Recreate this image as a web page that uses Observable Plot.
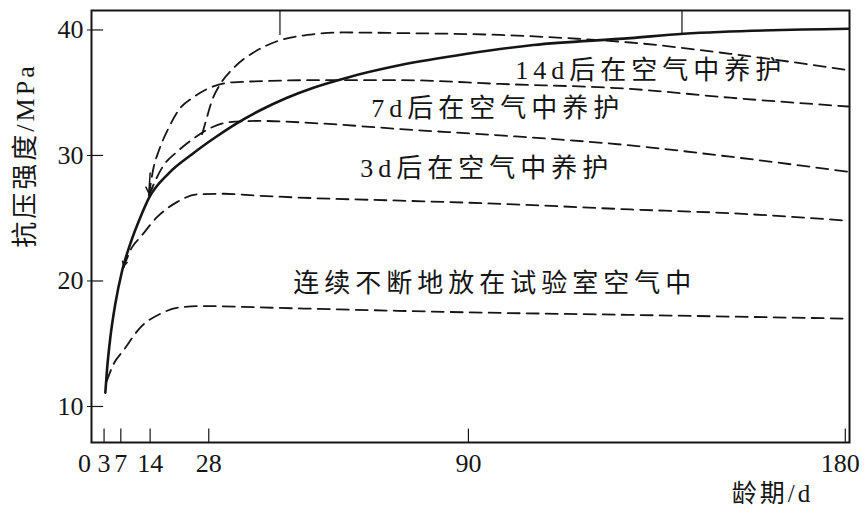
<!DOCTYPE html>
<html><head><meta charset="utf-8">
<script src="https://cdn.jsdelivr.net/npm/d3@7"></script>
<script src="https://cdn.jsdelivr.net/npm/@observablehq/plot@0.6"></script>
<style>
body{margin:0;background:#fff;}
g[aria-description="notes"] text{letter-spacing:5px;}
g[aria-description="titles"] text{letter-spacing:3px;}
</style></head><body><div id="chart"></div>
<script>
// tick values
const xTicks = [0, 3, 7, 14, 28, 90, 180];
const yTicks = [10, 20, 30, 40];
const topMarks = [45, 141];

// [age (d), compressive strength (MPa)]
const standard = [[3.3,11.1],[3.7,12.9],[4.5,15.5],[5.7,18.2],[7.3,20.8],[9.3,23.0],[11.7,25.1],[13.7,26.6],[18.5,28.6],[24,30.1],[29.6,31.45],[34.4,32.5],[40.3,33.6],[46.7,34.6],[53,35.4],[61,36.2],[73.8,37.2],[89.7,38.1],[105.5,38.8],[128.7,39.35],[141.3,39.7],[180.7,40.1]];
const labAir = [[3.6,12.0],[5.3,13.4],[7.7,14.5],[11.7,16.3],[16.5,17.4],[21.2,17.9],[26,18.0],[45,17.85],[90,17.5],[128,17.3],[180.7,17.0]];
const unlabeled = [[7.7,21.1],[9.7,22.7],[11.7,23.5],[15.7,25.1],[20.5,26.3],[25.2,26.9],[31.6,26.95],[39.6,26.8],[53,26.6],[73.8,26.4],[97.6,26.15],[128.7,25.7],[152.5,25.4],[180.7,24.8]];
const after3d = [[13.7,26.8],[16.9,29.05],[20.8,30.4],[24.8,31.45],[28.8,32.25],[32.8,32.65],[40,32.75],[54.7,32.55],[73.8,32.1],[97.6,31.6],[128.7,30.8],[152.5,29.9],[180.7,28.7]];
const after7d = [[13.7,26.8],[14.8,29.0],[16.1,30.4],[18.5,32.25],[20.8,33.6],[24.4,34.65],[30,35.6],[34.8,35.85],[54.7,36.0],[73.8,36.0],[97.6,35.7],[128.7,35.3],[152.5,34.6],[180.7,33.9]];
const after14d = [[26.4,31.7],[27.2,32.6],[28.8,34.4],[30.8,35.7],[34,37.0],[38.7,38.2],[44.3,39.1],[51.5,39.6],[60,39.8],[73.8,39.75],[97.6,39.6],[116,39.3],[128.7,39.0],[152.5,38.1],[180.7,36.8]];

const notes = [
  {text: "14d后在空气中养护", day: 101.2, mpa: 36.77},
  {text: "7d后在空气中养护", day: 66.8, mpa: 33.75},
  {text: "3d后在空气中养护", day: 64.2, mpa: 28.96},
  {text: "连续不断地放在试验室空气中", day: 48.2, mpa: 19.8}
];
const arrows = [
  {x1: 14.0, y1: 28.6, x2: 13.7, y2: 27.0},
  {x1: 8.6, y1: 22.3, x2: 7.7, y2: 21.2}
];

const X = [0, 181], Y = [7.13, 41.55];
const ink = "#151515";
const dashed = [labAir, unlabeled, after3d, after7d, after14d];

const plot = Plot.plot({
  width: 865, height: 509,
  marginLeft: 91, marginRight: 16, marginTop: 10, marginBottom: 67,
  x: {domain: X, axis: null},
  y: {domain: Y, axis: null},
  style: {fontFamily: '"Liberation Serif","Noto Sans CJK SC",serif', fontSize: "26px", color: ink, background: "#fff"},
  marks: [
    ...dashed.map(s => Plot.line(s, {x: d => d[0], y: d => d[1], curve: "monotone-x", stroke: ink, strokeWidth: 1.8, strokeDasharray: "12,7"})),
    Plot.line(standard, {x: d => d[0], y: d => d[1], curve: "monotone-x", stroke: ink, strokeWidth: 2.6}),
    Plot.arrow(arrows, {x1: "x1", y1: "y1", x2: "x2", y2: "y2", stroke: ink, strokeWidth: 1.5, headLength: 9}),
    Plot.frame({stroke: ink, strokeWidth: 2}),
    Plot.axisY(yTicks, {tickSize: 4, tickPadding: 4, label: null, stroke: ink}),
    Plot.ruleY(yTicks, {x1: X[0], x2: 2.9, stroke: ink, strokeWidth: 1.2}),
    Plot.ruleX(xTicks.filter(d => d > 0), {y1: Y[0], y2: Y[0] + 1.07, stroke: ink, strokeWidth: 1.2}),
    Plot.ruleX(topMarks, {y1: Y[1], y2: Y[1] - 2.0, stroke: ink, strokeWidth: 1.2}),
    Plot.text(xTicks.filter(d => d > 0 && d < 180), {x: d => d, text: d => String(d), frameAnchor: "bottom", lineAnchor: "middle", dy: 21, fill: ink}),
    Plot.text(xTicks.filter(d => d === 0), {x: d => d, text: d => String(d), frameAnchor: "bottom", lineAnchor: "middle", dy: 21, dx: -7, fill: ink}),
    Plot.text(xTicks.filter(d => d === 180), {x: d => d, text: d => String(d), frameAnchor: "bottom", lineAnchor: "middle", dy: 21, dx: -5, fill: ink}),
    Plot.text(notes, {x: "day", y: "mpa", text: "text", textAnchor: "start", lineAnchor: "middle", fill: ink, ariaDescription: "notes"}),
    Plot.text(["抗压强度/MPa"], {frameAnchor: "left", textAnchor: "middle", lineAnchor: "middle", dx: -66, dy: -71, rotate: -90, fill: ink, ariaDescription: "titles"}),
    Plot.text(["龄期/d"], {frameAnchor: "bottom-right", textAnchor: "middle", lineAnchor: "middle", dx: -77, dy: 51, fontSize: 25, fill: ink, ariaDescription: "titles"})
  ]
});
document.getElementById("chart").appendChild(plot);
</script></body></html>
